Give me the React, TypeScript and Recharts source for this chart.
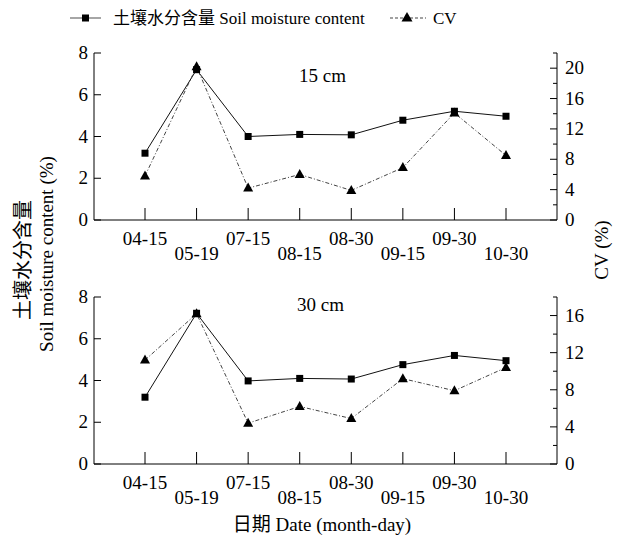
import React from "react";
import { LineChart, Line, XAxis, YAxis } from "recharts";

const dates = ["04-15", "05-19", "07-15", "08-15", "08-30", "09-15", "09-30", "10-30"];

// 15 cm
const moisture15 = [3.2, 7.2, 4.0, 4.1, 4.08, 4.78, 5.21, 4.97];
const cv15 = [5.8, 20.2, 4.2, 6.0, 3.9, 6.9, 14.1, 8.5];

// 30 cm
const moisture30 = [3.2, 7.22, 3.98, 4.1, 4.07, 4.76, 5.2, 4.95];
const cv30 = [11.2, 16.2, 4.4, 6.2, 4.9, 9.2, 7.9, 10.4];

const leftTicks = [0, 2, 4, 6, 8];
const rightTicks15 = [0, 2, 4, 6, 8, 10, 12, 14, 16, 18, 20, 22];
const rightTicks30 = [0, 2, 4, 6, 8, 10, 12, 14, 16, 18];

const FONT = "'Liberation Serif', 'Times New Roman', 'Noto Sans CJK SC', serif";
const FS = 19;

const SquareDot = (p: any) => {
  const { cx, cy } = p;
  if (cx == null || cy == null) return null;
  return <rect key={p.index} x={cx - 3.5} y={cy - 3.5} width={7} height={7} fill="#000" />;
};

const TriDot = (p: any) => {
  const { cx, cy } = p;
  if (cx == null || cy == null) return null;
  return (
    <polygon
      key={p.index}
      points={`${cx},${cy - 5.5} ${cx - 5},${cy + 3.5} ${cx + 5},${cy + 3.5}`}
      fill="#000"
    />
  );
};

const XTick = (p: any) => {
  const { x, y, payload, index } = p;
  const upper = index % 2 === 0;
  return (
    <g>
      <line x1={x} x2={x} y1={y} y2={y - 12} stroke="#000" strokeWidth={1} />
      <text x={x} y={y + (upper ? 25 : 40)} textAnchor="middle" fontSize={FS} style={{ fontFamily: FONT }} fill="#000">
        {payload.value}
      </text>
    </g>
  );
};

const LeftTick = (p: any) => {
  const { x, y, payload } = p;
  return (
    <g>
      <line x1={x} x2={x + 7} y1={y} y2={y} stroke="#000" strokeWidth={1} />
      <text x={x - 6} y={y + 6} textAnchor="end" fontSize={FS} style={{ fontFamily: FONT }} fill="#000">
        {payload.value}
      </text>
    </g>
  );
};

const RightTick = (p: any) => {
  const { x, y, payload } = p;
  const major = payload.value % 4 === 0;
  return (
    <g>
      <line x1={x - (major ? 7 : 4)} x2={x} y1={y} y2={y} stroke="#000" strokeWidth={1} />
      {major && (
        <text x={x + 8} y={y + 6} textAnchor="start" fontSize={FS} style={{ fontFamily: FONT }} fill="#000">
          {payload.value}
        </text>
      )}
    </g>
  );
};

function Panel({
  moisture,
  cv,
  rightMax,
  rightTicks,
  height,
  top,
  xHeight,
}: {
  moisture: number[];
  cv: number[];
  rightMax: number;
  rightTicks: number[];
  height: number;
  top: number;
  xHeight: number;
}) {
  const data = dates.map((d, i) => ({ date: d, moisture: moisture[i], cv: cv[i] }));
  return (
    <LineChart width={619} height={height} data={data} margin={{ top, right: 0, bottom: 0, left: 0 }}>
      <XAxis
        dataKey="date"
        padding={{ left: 51, right: 51 }}
        height={xHeight}
        tickSize={0}
        tickMargin={0}
        interval={0}
        tick={XTick}
        axisLine={{ stroke: "#000", strokeWidth: 1 }}
        tickLine={false}
      />
      <YAxis
        yAxisId="left"
        orientation="left"
        width={94}
        domain={[0, 8]}
        ticks={leftTicks}
        tickSize={0}
        tickMargin={0}
        tick={LeftTick}
        tickLine={false}
        axisLine={{ stroke: "#000", strokeWidth: 1 }}
      />
      <YAxis
        yAxisId="right"
        orientation="right"
        width={62}
        domain={[0, rightMax]}
        ticks={rightTicks}
        interval={0}
        tickSize={0}
        tickMargin={0}
        tick={RightTick}
        tickLine={false}
        axisLine={{ stroke: "#000", strokeWidth: 1 }}
      />
      <Line
        yAxisId="left"
        dataKey="moisture"
        type="linear"
        stroke="#111"
        strokeWidth={1}
        dot={SquareDot}
        isAnimationActive={false}
      />
      <Line
        yAxisId="right"
        dataKey="cv"
        type="linear"
        stroke="#444"
        strokeWidth={1}
        strokeDasharray="4 2 1 2"
        dot={TriDot}
        isAnimationActive={false}
      />
    </LineChart>
  );
}

export default function App() {
  const t = { fontFamily: FONT };
  return (
    <div style={{ position: "relative", width: 619, height: 539, background: "#fff", fontFamily: FONT }}>
      <style>{"body{margin:0}"}</style>
      <div style={{ position: "absolute", left: 0, top: 0 }}>
        <Panel moisture={moisture15} cv={cv15} rightMax={22} rightTicks={rightTicks15} height={280} top={53} xHeight={60} />
      </div>
      <div style={{ position: "absolute", left: 0, top: 280 }}>
        <Panel moisture={moisture30} cv={cv30} rightMax={18} rightTicks={rightTicks30} height={259} top={17} xHeight={75} />
      </div>
      <svg
        style={{ position: "absolute", left: 0, top: 0, pointerEvents: "none" }}
        width={619}
        height={539}
      >
        {/* legend */}
        <line x1={70} x2={101} y1={18} y2={18} stroke="#888" strokeWidth={1.5} />
        <rect x={82} y={14.5} width={7} height={7} fill="#000" />
        <text x={113} y={24} fontSize={17} style={t} fill="#000">
          土壤水分含量 Soil moisture content
        </text>
        <line x1={390} x2={426} y1={18} y2={18} stroke="#444" strokeWidth={1.2} strokeDasharray="3 2" />
        <polygon points="407,12 401.5,21.5 412.5,21.5" fill="#000" />
        <text x={433} y={24} fontSize={17} style={t} fill="#000">
          CV
        </text>

        {/* panel labels */}
        <text x={299} y={82} fontSize={FS} style={t} fill="#000">
          15 cm
        </text>
        <text x={297} y={311} fontSize={FS} style={t} fill="#000">
          30 cm
        </text>

        {/* axis titles */}
        <text x={30} y={260} fontSize={20} textAnchor="middle" transform="rotate(-90 30 260)" style={t} fill="#000">
          土壤水分含量
        </text>
        <text x={53} y={254} fontSize={FS} textAnchor="middle" transform="rotate(-90 53 254)" style={t} fill="#000">
          Soil moisture content (%)
        </text>
        <text x={608} y={250} fontSize={FS} textAnchor="middle" transform="rotate(-90 608 250)" style={t} fill="#000">
          CV (%)
        </text>
        <text x={322} y={531} fontSize={FS} textAnchor="middle" style={t} fill="#000">
          日期 Date (month-day)
        </text>
      </svg>
    </div>
  );
}
